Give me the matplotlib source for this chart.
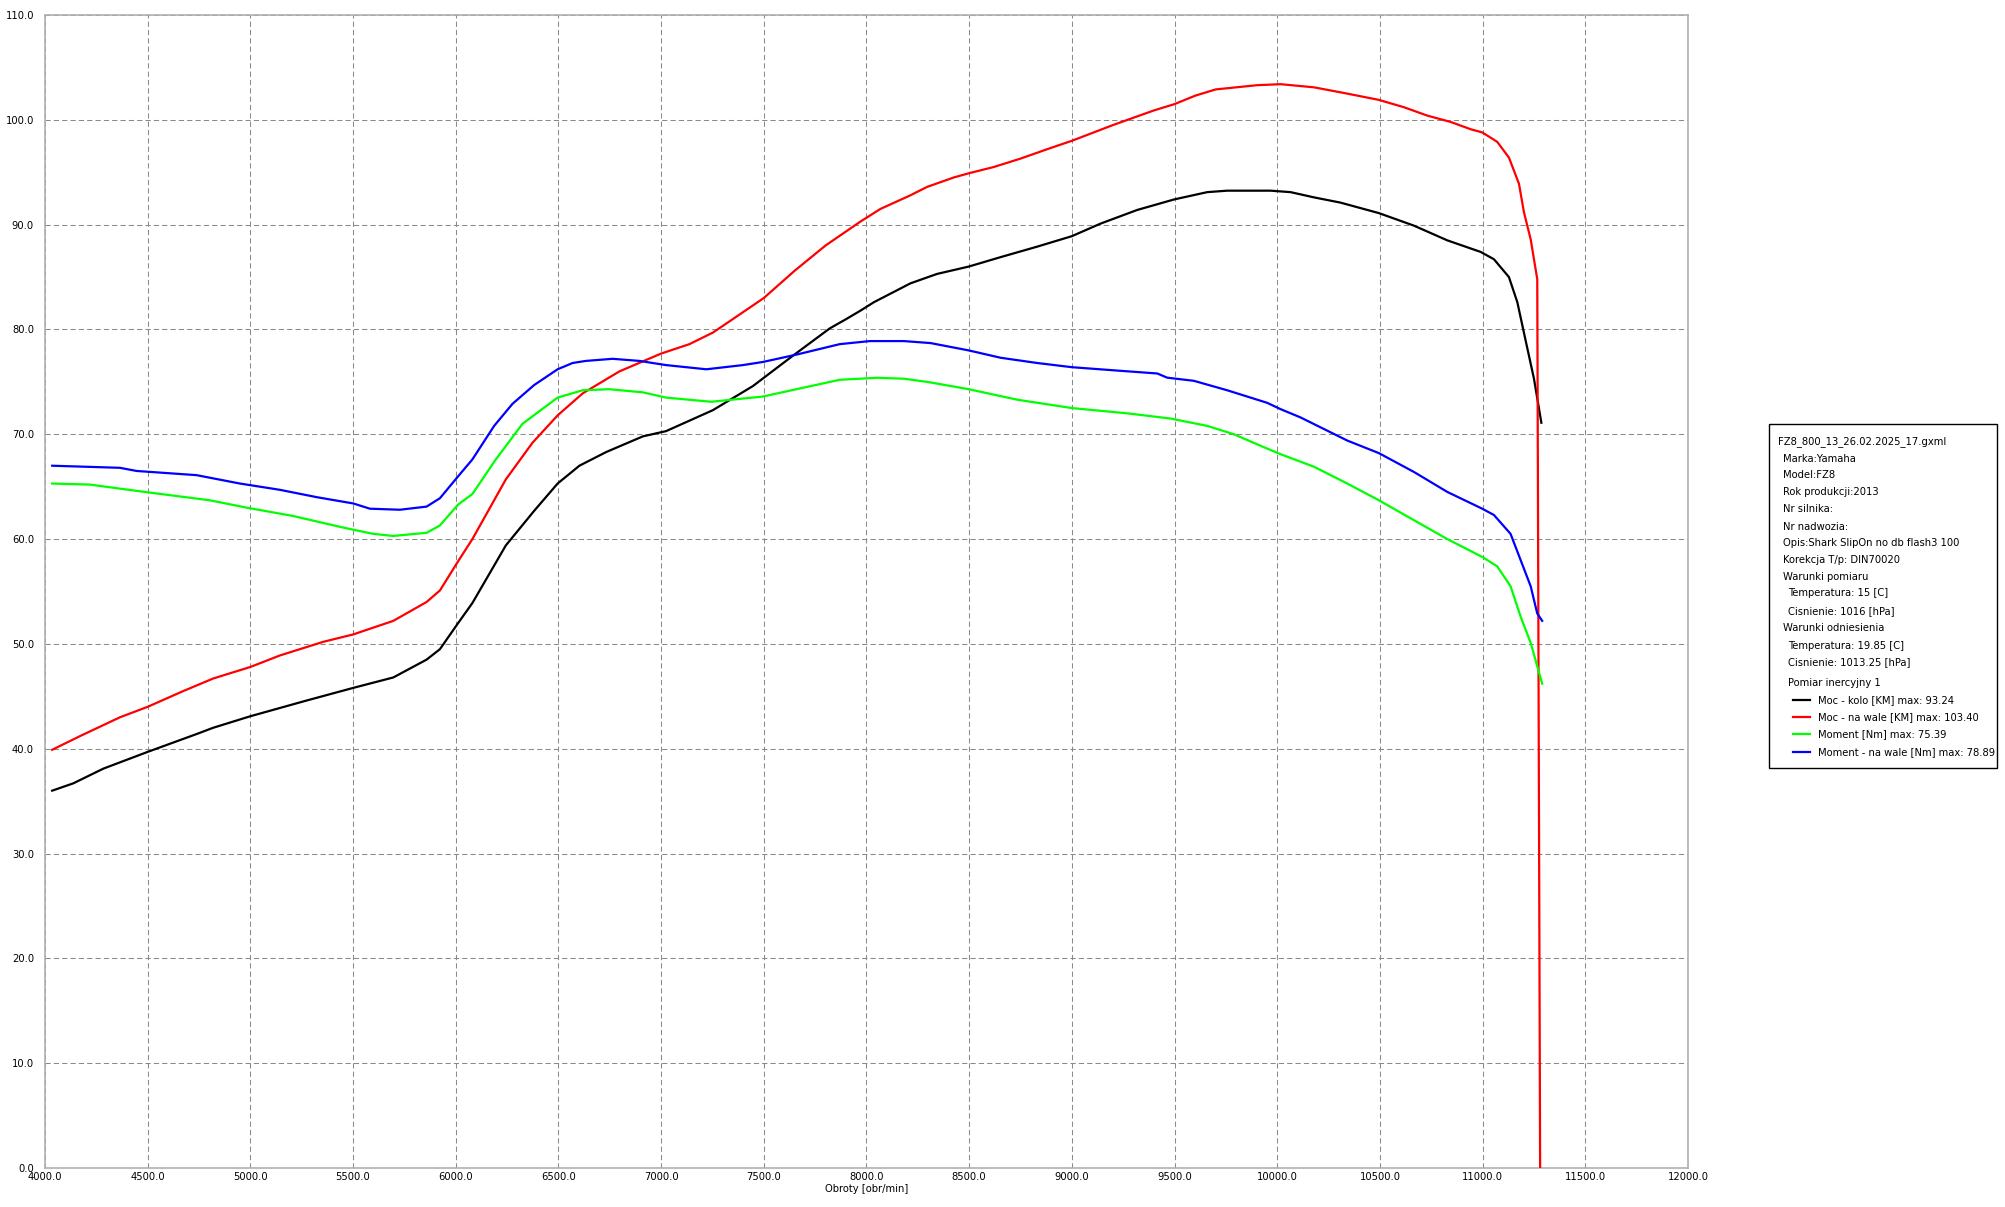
import matplotlib
matplotlib.use("Agg")
import matplotlib.pyplot as plt
from matplotlib.lines import Line2D
from matplotlib.patches import Rectangle
import numpy as np

plt.rcParams['font.family'] = ['DejaVu Sans']

# ---------------- data ----------------
rpm_kolo = [4035, 4138, 4284, 4500, 4738, 4819, 5000, 5274, 5500, 5696, 5858, 5923, 6012,
            6081, 6244, 6382, 6496, 6602, 6732, 6911, 7024, 7252, 7447, 7642, 7821, 7902,
            7971, 8036, 8214, 8344, 8498, 8653, 8831, 9000, 9140, 9318, 9497, 9659, 9756,
            9968, 10065, 10179, 10308, 10495, 10666, 10828, 10990, 11055, 11128, 11169,
            11201, 11250, 11286]
moc_kolo = [36.0, 36.7, 38.1, 39.7, 41.4, 42.0, 43.1, 44.6, 45.8, 46.8, 48.5, 49.5, 52.0,
            53.9, 59.4, 62.7, 65.3, 67.0, 68.3, 69.8, 70.3, 72.3, 74.6, 77.5, 80.1, 81.0,
            81.8, 82.6, 84.4, 85.3, 86.0, 86.9, 87.9, 88.9, 90.1, 91.4, 92.4, 93.1, 93.24,
            93.24, 93.1, 92.6, 92.1, 91.1, 89.9, 88.5, 87.4, 86.7, 85.0, 82.6,
            79.7, 75.3, 71.1]

rpm_wal = [4035, 4170, 4365, 4500, 4673, 4819, 5000, 5144, 5355, 5500, 5696, 5858, 5923,
           6012, 6081, 6244, 6374, 6496, 6618, 6797, 7000, 7138, 7252, 7350, 7500, 7650,
           7800, 7971, 8068, 8214, 8295, 8425, 8498, 8620, 8750, 8880, 9000, 9200, 9400,
           9500, 9600, 9700, 9800, 9900, 10016, 10179, 10341, 10495, 10617, 10731, 10844,
           10942, 10998, 11071, 11128, 11177, 11201, 11234, 11266, 11280]
moc_wal = [39.9, 41.2, 43.0, 44.0, 45.5, 46.7, 47.8, 48.9, 50.2, 50.9, 52.2, 54.0, 55.1,
           57.9, 60.0, 65.7, 69.2, 71.8, 73.9, 76.0, 77.7, 78.6, 79.7, 81.0, 83.0, 85.6,
           88.0, 90.3, 91.5, 92.8, 93.6, 94.5, 94.9, 95.5, 96.3, 97.2, 98.0, 99.5, 100.9,
           101.5, 102.3, 102.9, 103.1, 103.3, 103.4, 103.1, 102.5, 101.9, 101.2, 100.4, 99.8,
           99.1, 98.8, 97.9, 96.4, 93.9, 91.2, 88.6, 84.8, 0.0]

rpm_moment = [4035, 4219, 4446, 4803, 4982, 5209, 5452, 5598, 5696, 5858, 5923, 6012, 6081,
              6195, 6325, 6496, 6618, 6748, 6911, 7024, 7244, 7496, 7659, 7870, 8052, 8182,
              8295, 8498, 8734, 9000, 9269, 9481, 9659, 9789, 9919, 10016, 10179, 10341,
              10495, 10666, 10828, 10998, 11071, 11136, 11185, 11234, 11290]
moment = [65.3, 65.2, 64.6, 63.7, 63.0, 62.2, 61.1, 60.5, 60.3, 60.6, 61.3, 63.3, 64.3,
          67.6, 71.0, 73.5, 74.2, 74.3, 74.0, 73.5, 73.1, 73.6, 74.3, 75.2, 75.39, 75.3,
          75.0, 74.3, 73.3, 72.5, 72.0, 71.5, 70.8, 70.0, 68.9, 68.1, 66.9, 65.3,
          63.7, 61.8, 60.0, 58.3, 57.4, 55.5, 52.6, 50.1, 46.2]

rpm_moment_wal = [4035, 4365, 4446, 4738, 4949, 5144, 5323, 5501, 5582, 5728, 5858, 5923,
                  6012, 6081, 6187, 6276, 6382, 6496, 6569, 6634, 6764, 6894, 7024, 7220,
                  7398, 7496, 7659, 7870, 8016, 8182, 8312, 8498, 8653, 8831, 9000, 9205,
                  9416, 9464, 9594, 9756, 9951, 10016, 10114, 10341, 10495, 10666, 10828,
                  10998, 11055, 11136, 11185, 11234, 11266, 11290]
moment_wal = [67.0, 66.8, 66.5, 66.1, 65.3, 64.7, 64.0, 63.4, 62.9, 62.8, 63.1, 63.9,
              66.0, 67.6, 70.8, 72.9, 74.7, 76.2, 76.8, 77.0, 77.2, 77.0, 76.6, 76.2,
              76.6, 76.9, 77.6, 78.6, 78.89, 78.89, 78.7, 78.0, 77.3, 76.8, 76.4, 76.1,
              75.8, 75.4, 75.1, 74.2, 73.0, 72.4, 71.6, 69.4, 68.2, 66.4, 64.5,
              62.9, 62.3, 60.5, 58.0, 55.5, 52.9, 52.2]

x_ticks = [4000, 4500, 5000, 5500, 6000, 6500, 7000, 7500, 8000, 8500, 9000, 9500,
           10000, 10500, 11000, 11500, 12000]
y_ticks = [0, 10, 20, 30, 40, 50, 60, 70, 80, 90, 100, 110]

series_labels = ["Moc - kolo [KM] max: 93.24",
                 "Moc - na wale [KM] max: 103.40",
                 "Moment [Nm] max: 75.39",
                 "Moment - na wale [Nm] max: 78.89"]
series_colors = ["#000000", "#ff0000", "#00ff00", "#0000ff"]

info_lines = ["FZ8_800_13_26.02.2025_17.gxml",
              "Marka:Yamaha",
              "Model:FZ8",
              "Rok produkcji:2013",
              "Nr silnika:",
              "Nr nadwozia:",
              "Opis:Shark SlipOn no db flash3 100",
              "Korekcja T/p: DIN70020",
              "Warunki pomiaru",
              "Temperatura: 15 [C]",
              "Cisnienie: 1016 [hPa]",
              "Warunki odniesienia",
              "Temperatura: 19.85 [C]",
              "Cisnienie: 1013.25 [hPa]",
              "Pomiar inercyjny 1"]
info_indent = [0, 1, 1, 1, 1, 1, 1, 1, 1, 2, 2, 1, 2, 2, 2]

# ---------------- figure ----------------
W, H = 2006, 1207
fig = plt.figure(figsize=(W / 100, H / 100), dpi=100)
fig.patch.set_facecolor("white")

L, R, T, B = 45, 1688, 15, 1168
ax = fig.add_axes([L / W, (H - B) / H, (R - L) / W, (B - T) / H])

xs = [rpm_kolo, rpm_wal, rpm_moment, rpm_moment_wal]
ys = [moc_kolo, moc_wal, moment, moment_wal]
for x, y, c, lab in zip(xs, ys, series_colors, series_labels):
    ax.plot(x, y, color=c, lw=1.6, label=lab, zorder=3)

ax.set_xlim(4000, 12000)
ax.set_ylim(0, 110)
ax.set_xticks(x_ticks)
ax.set_yticks(y_ticks)
ax.set_xticklabels([f"{v:.1f}" for v in x_ticks])
ax.set_yticklabels([f"{v:.1f}" for v in y_ticks])
ax.tick_params(axis="both", length=0, labelsize=7.2, colors="#000000")
ax.tick_params(axis="y", pad=8)
ax.tick_params(axis="x", pad=3)
ax.grid(True, color="#8a8a8a", lw=0.75, linestyle=(0, (5, 3)), zorder=1)
for s in ax.spines.values():
    s.set_color("#b0b0b0")
    s.set_linewidth(1.2)
ax.set_xlabel("Obroty [obr/min]", fontsize=7.2, labelpad=1)

# ---------------- info / legend box ----------------
bx0, bx1, by0, by1 = 1769, 1997, 424, 768
fig.patches.append(Rectangle((bx0 / W, 1 - by1 / H), (bx1 - bx0) / W, (by1 - by0) / H,
                             transform=fig.transFigure, facecolor="white",
                             edgecolor="black", lw=1.0))
line_y = [442, 458.7, 475, 492, 509.3, 526.7, 543.3, 560, 576.7, 593.3, 611, 628.3,
          645.7, 662.3, 683.3]
indent_x = {0: 1778, 1: 1783, 2: 1788}
for txt, ind, yy in zip(info_lines, info_indent, line_y):
    fig.text(indent_x[ind] / W, 1 - yy / H, txt, fontsize=7.2, va="center", ha="left")
leg_y = [700, 717.3, 734, 751.7]
for lab, c, yy in zip(series_labels, series_colors, leg_y):
    fig.add_artist(Line2D([1793 / W, 1810 / W], [1 - yy / H, 1 - yy / H],
                          transform=fig.transFigure, color=c, lw=1.6))
    fig.text(1818 / W, 1 - yy / H, lab, fontsize=7.2, va="center", ha="left")

fig.savefig("out.png", dpi=100)
